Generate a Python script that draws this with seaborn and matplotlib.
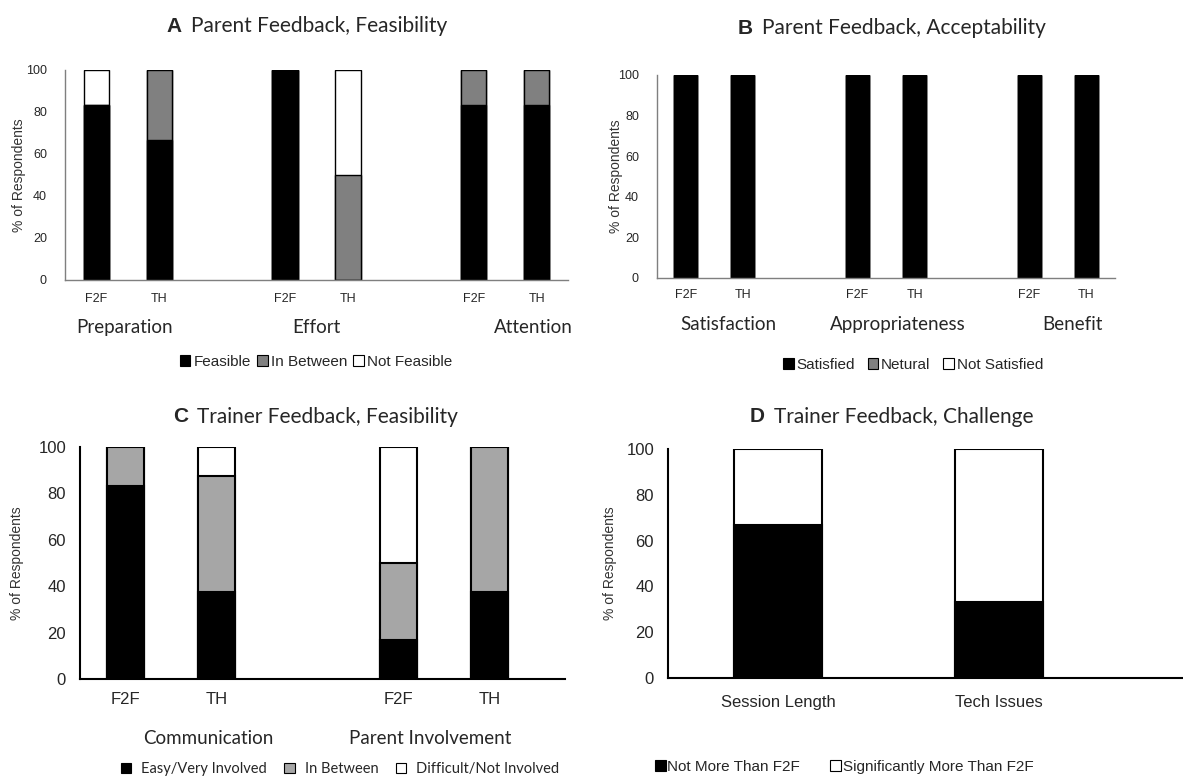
import matplotlib.pyplot as plt
import numpy as np
import seaborn as sns
from matplotlib.patches import Patch

sns.set_style("white")
plt.rcParams['font.family'] = ['Liberation Sans', 'DejaVu Sans']

# ---- data ----
# A: parent feedback, feasibility
a_pos = [0, 1, 3, 4, 6, 7]
a_ticks = ['F2F', 'TH', 'F2F', 'TH', 'F2F', 'TH']
a_groups = ['Preparation', 'Effort', 'Attention']
a_feasible = [83.3, 66.7, 100, 0, 83.3, 83.3]
a_between = [0, 33.3, 0, 50, 16.7, 16.7]
a_notfeas = [16.7, 0, 0, 50, 0, 0]
a_legend = ['Feasible', 'In Between', 'Not Feasible']

# B: parent feedback, acceptability
b_pos = [0, 1, 3, 4, 6, 7]
b_ticks = ['F2F', 'TH', 'F2F', 'TH', 'F2F', 'TH']
b_groups = ['Satisfaction', 'Appropriateness', 'Benefit']
b_satisfied = [100, 100, 100, 100, 100, 100]
b_neutral = [0, 0, 0, 0, 0, 0]
b_notsat = [0, 0, 0, 0, 0, 0]
b_legend = ['Satisfied', 'Netural', 'Not Satisfied']

# C: trainer feedback, feasibility
c_pos = [0, 1, 3, 4]
c_ticks = ['F2F', 'TH', 'F2F', 'TH']
c_groups = ['Communication', 'Parent Involvement']
c_easy = [83.3, 37.5, 16.7, 37.5]
c_between = [16.7, 50, 33.3, 62.5]
c_difficult = [0, 12.5, 50, 0]
c_legend = ['Easy/Very Involved', 'In Between', 'Difficult/Not Involved']

# D: trainer feedback, challenge
d_pos = [0, 1]
d_ticks = ['Session Length', 'Tech Issues']
d_notmore = [66.7, 33.3]
d_more = [33.3, 66.7]
d_legend = ['Not More Than F2F', 'Significantly More Than F2F']

W, H = 1183, 778
fig = plt.figure(figsize=(W / 100, H / 100), dpi=100)


def box(l, t, r, b):
    return [l / W, 1 - b / H, (r - l) / W, (b - t) / H]


def stacked(ax, pos, layers, colors, lw=1.0):
    cum = np.cumsum(np.array(layers, dtype=float), axis=0)
    for i in range(len(layers) - 1, -1, -1):
        sns.barplot(x=pos, y=cum[i], native_scale=True, width=0.4,
                    color=colors[i], saturation=1, edgecolor='black',
                    linewidth=lw, errorbar=None, ax=ax)


def style(ax, xmax, spine_col, spine_lw, ysize, ypad, xpad):
    ax.set_ylim(0, 100)
    ax.set_xlim(-0.5, xmax)
    ax.set_yticks([0, 20, 40, 60, 80, 100])
    ax.tick_params(axis='y', labelsize=ysize, length=0, pad=ypad)
    ax.tick_params(axis='x', length=0, pad=xpad)
    for s in ['top', 'right']:
        ax.spines[s].set_visible(False)
    for s in ['left', 'bottom']:
        ax.spines[s].set_color(spine_col)
        ax.spines[s].set_linewidth(spine_lw)
    ax.set_ylabel('% of Respondents', fontsize=10, color='#333333')
    ax.set_xlabel('')


def title(x_letter, y, letter, text, size=15):
    fig.text(x_letter / W, 1 - y / H, letter, ha='right', va='center',
             fontsize=size, fontweight='bold', family='Liberation Sans')
    fig.text((x_letter + 9) / W, 1 - y / H, text, ha='left', va='center',
             fontsize=size, family='Lato')


def legend(labels, colors, x, y, size, fam, tpad, spacing):
    handles = [Patch(facecolor=c, edgecolor='black', linewidth=0.8) for c in colors]
    fig.legend(handles, labels, loc='center', bbox_to_anchor=(x / W, 1 - y / H),
               ncol=len(labels), frameon=False, handlelength=0.7, handleheight=0.7,
               handletextpad=tpad, columnspacing=spacing,
               prop={'family': fam, 'size': size})


# ---- A ----
axA = fig.add_axes(box(65, 70, 568, 280))
stacked(axA, a_pos, [a_feasible, a_between, a_notfeas], ['black', '#808080', 'white'])
style(axA, 7.5, '#7f7f7f', 1.0, 9, 13, 9)
axA.set_xticks(a_pos)
axA.set_xticklabels(a_ticks, fontsize=9)
axA.yaxis.set_label_coords(-0.078, 0.5)
for gx, g in zip([0.45, 3.5, 6.95], a_groups):
    axA.text(gx, -22.5, g, ha='center', va='center', fontsize=13.5, family='Lato')
title(182, 26, 'A', 'Parent Feedback, Feasibility')
legend(a_legend, ['black', '#808080', 'white'], 316, 362, 11, 'Liberation Sans', 0.2, 0.4)

# ---- B ----
axB = fig.add_axes(box(657, 75, 1115, 278))
stacked(axB, b_pos, [b_satisfied, b_neutral, b_notsat], ['black', '#808080', 'white'])
style(axB, 7.5, '#7f7f7f', 1.0, 9, 13, 8)
axB.set_xticks(b_pos)
axB.set_xticklabels(b_ticks, fontsize=9)
axB.yaxis.set_label_coords(-0.075, 0.5)
for gx, g in zip([0.75, 3.7, 6.75], b_groups):
    axB.text(gx, -23, g, ha='center', va='center', fontsize=13.5, family='Lato')
title(753, 28, 'B', 'Parent Feedback, Acceptability')
legend(b_legend, ['black', '#808080', 'white'], 913, 365, 11, 'Liberation Sans', 0.2, 0.8)

# ---- C ----
axC = fig.add_axes(box(80, 447, 565, 679))
stacked(axC, c_pos, [c_easy, c_between, c_difficult], ['black', '#a6a6a6', 'white'], lw=1.5)
style(axC, 4.83, 'black', 1.5, 12, 10, 9)
axC.set_xticks(c_pos)
axC.set_xticklabels(c_ticks, fontsize=12)
axC.yaxis.set_label_coords(-0.115, 0.5)
for gx, g in zip([0.91, 3.35], c_groups):
    axC.text(gx, -25.5, g, ha='center', va='center', fontsize=13.5, family='Lato')
title(188, 417, 'C', 'Trainer Feedback, Feasibility')
legend(c_legend, ['black', '#a6a6a6', 'white'], 340, 769, 10.5, 'Lato', 0.7, 1.2)

# ---- D ----
axD = fig.add_axes(box(668, 449, 1182, 678))
stacked(axD, d_pos, [d_notmore, d_more], ['black', 'white'], lw=1.5)
style(axD, 1.83, 'black', 1.5, 12, 10, 12)
axD.set_xticks(d_pos)
axD.set_xticklabels(d_ticks, fontsize=12)
axD.yaxis.set_label_coords(-0.1, 0.5)
title(765, 417, 'D', 'Trainer Feedback, Challenge')
legend(d_legend, ['black', 'white'], 844, 767, 11, 'Liberation Sans', 0.1, 2.0)

fig.savefig('out.png', dpi=100)
